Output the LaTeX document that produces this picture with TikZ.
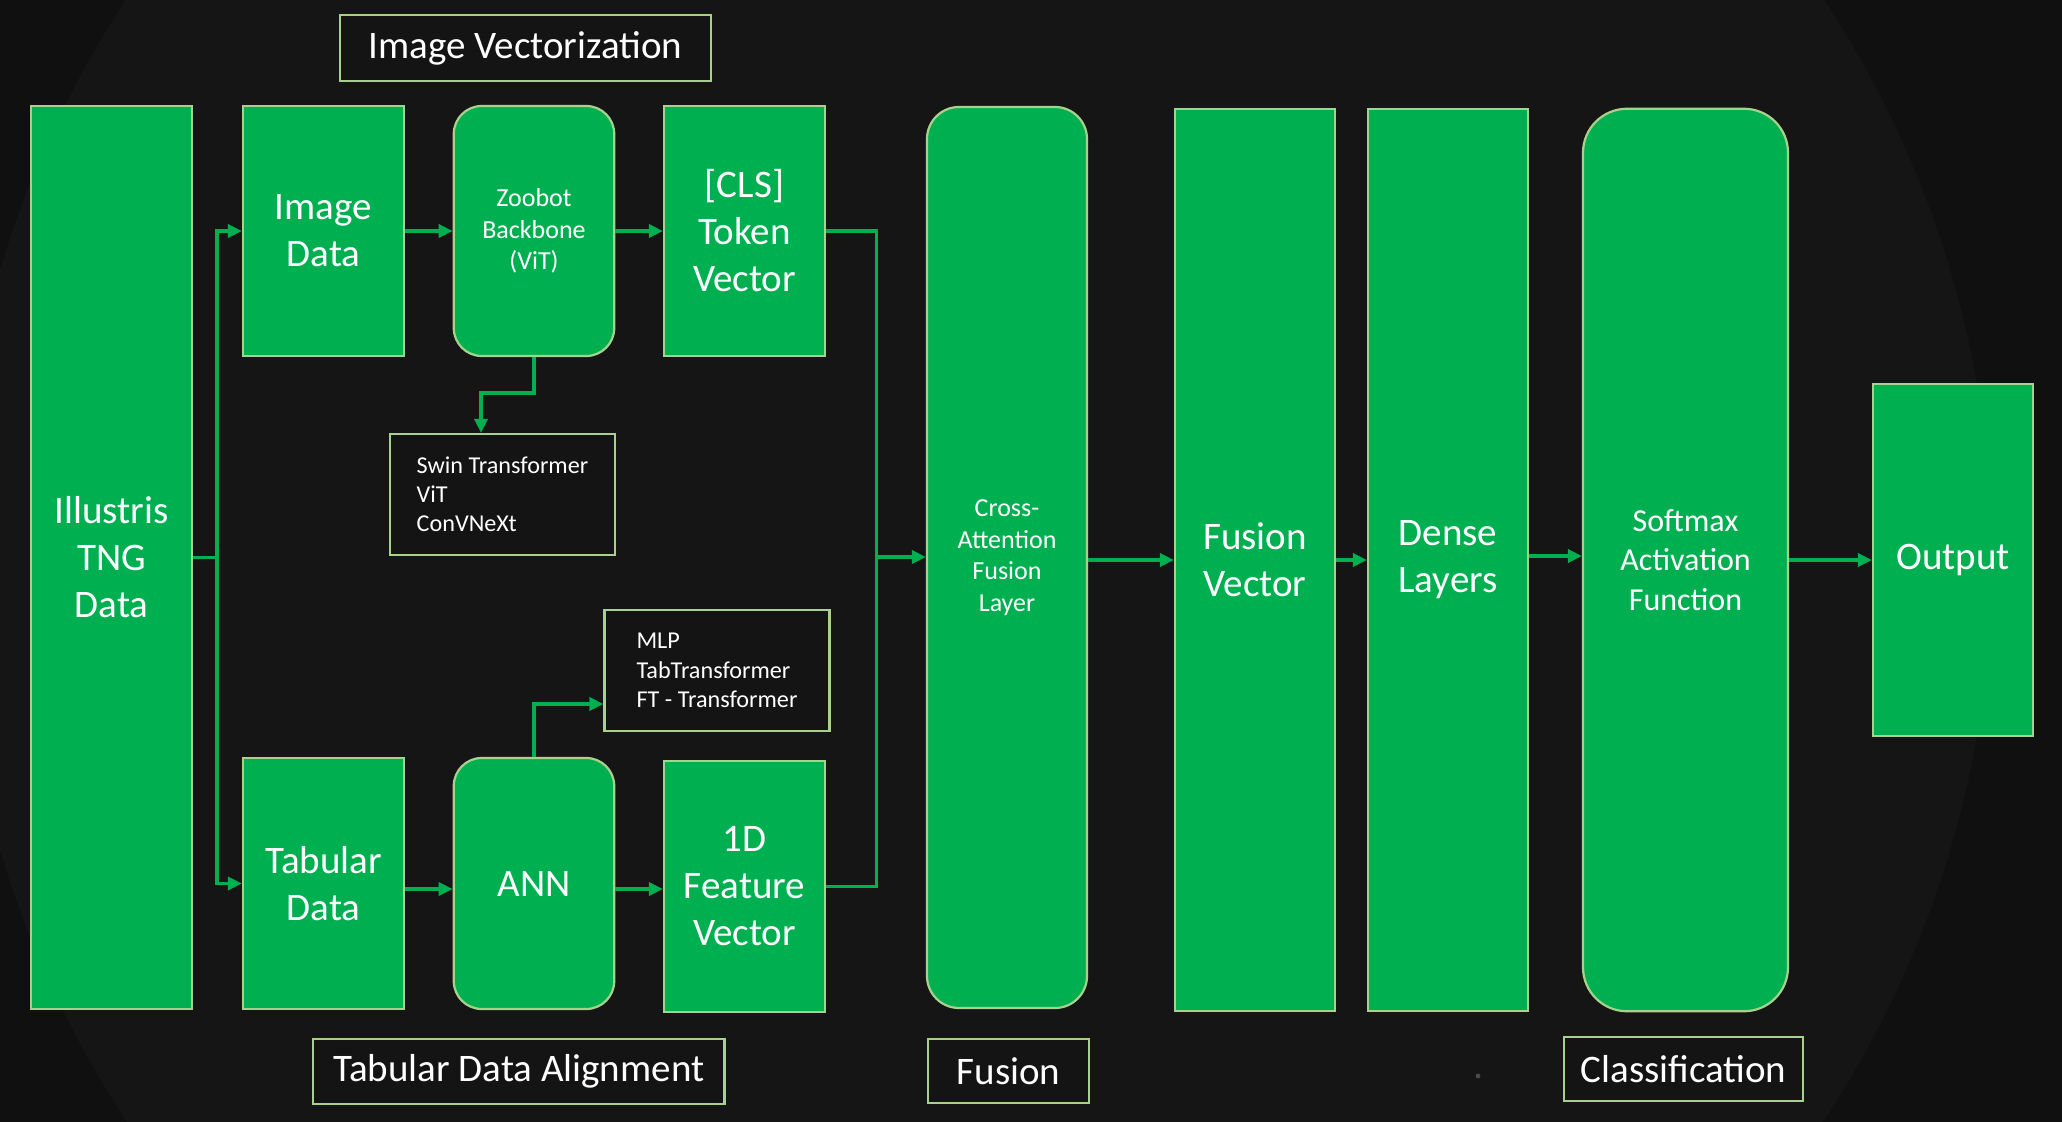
\documentclass[tikz,border=0pt]{standalone}
\usepackage{fontspec}
\setmainfont{Carlito}
\usetikzlibrary{arrows.meta}

\definecolor{bg}{HTML}{141414}
\definecolor{bgin}{HTML}{151515}
\definecolor{bgout}{HTML}{101010}
\definecolor{speck}{HTML}{4A4A4A}
\definecolor{boxgreen}{HTML}{00B050}
\definecolor{edgegreen}{HTML}{A9D18E}
\definecolor{linkgreen}{HTML}{00B050}

\tikzset{
  block/.style={draw=edgegreen, line width=1.1pt, fill=boxgreen, text=white,
                align=center, inner sep=0pt, font=\fontsize{19.5}{23.5}\selectfont},
  smalltext/.style={font=\fontsize{13}{15.8}\selectfont},
  midtext/.style={font=\fontsize{16}{19.8}\selectfont},
  tag/.style={draw=edgegreen, line width=1.1pt, fill=bg, text=white,
              inner sep=0pt, font=\fontsize{19.5}{23.5}\selectfont},
  listbox/.style={draw=edgegreen, line width=1.1pt, fill=bg, text=white,
                  inner sep=0pt, align=left, font=\fontsize{12.1}{14.6}\selectfont},
  wire/.style={draw=linkgreen, line width=1.8pt},
  link/.style={wire, -{Triangle[length=7pt,width=6.5pt]}},
}

\begin{document}
\begin{tikzpicture}[x=0.5pt, y=-0.5pt]
  % backdrop with a soft round vignette
  \useasboundingbox (0,0) rectangle (2062,1122);
  \fill[bgout] (0,0) rectangle (2062,1122);
  \begin{scope}
    \clip (0,0) rectangle (2062,1122);
    \fill[bgin] (975,560) circle[radius=508.5pt];
  \end{scope}
  \fill[speck] (1478,1076) circle[radius=1.2pt];

  % section captions
  \node[tag, minimum width=185.5pt, minimum height=33pt] (imgvec) at (525.5,48) {Image Vectorization};
  \node[tag, minimum width=205.75pt, minimum height=32.5pt] (tabalign) at (518.75,1071.5) {Tabular Data Alignment};
  \node[tag, minimum width=80.5pt, minimum height=32pt] (fusiontag) at (1008.5,1071) {Fusion};
  \node[tag, minimum width=119.5pt, minimum height=32pt] (classtag) at (1683.5,1069) {Classification};

  % input column
  \node[block, minimum width=80.5pt, minimum height=451.5pt] (illustris) at (111.5,557.5) {Illustris\\TNG\\Data};

  % image branch
  \node[block, minimum width=80.5pt, minimum height=125pt] (imgdata) at (323.5,231) {Image\\Data};
  \node[block, smalltext, rounded corners=14pt, minimum width=80.25pt, minimum height=125pt] (zoobot) at (534,231) {Zoobot\\Backbone\\(ViT)};
  \node[block, minimum width=80.5pt, minimum height=125pt] (cls) at (744.5,231) {[CLS]\\Token\\Vector};
  \node[listbox, minimum width=112.5pt, minimum height=60.5pt] (swin) at (502.5,494.5) {Swin Transformer\\ViT\\ConVNeXt};

  % tabular branch
  \node[block, minimum width=80.5pt, minimum height=125.5pt] (tabdata) at (323.5,883.5) {Tabular\\Data};
  \node[block, rounded corners=14pt, minimum width=80.25pt, minimum height=125.5pt] (ann) at (534,883.5) {ANN};
  \node[block, minimum width=80.5pt, minimum height=125.5pt] (feat) at (744.5,886.5) {1D\\Feature\\Vector};
  \node[listbox, minimum width=112.5pt, minimum height=60.5pt] (mlp) at (717,670.5) {MLP\\TabTransformer\\FT - Transformer};

  % fusion and classification
  \node[block, smalltext, rounded corners=16pt, minimum width=80pt, minimum height=450.5pt] (crossatt) at (1007,557.5) {Cross-\\Attention\\Fusion\\Layer};
  \node[block, minimum width=80pt, minimum height=451.25pt] (fusionvec) at (1255,560) {Fusion\\Vector};
  \node[block, minimum width=80pt, minimum height=451.25pt] (dense) at (1448,560) {\raisebox{-2pt}{Dense}\\\raisebox{-2pt}{Layers}};
  \node[block, midtext, rounded corners=22pt, minimum width=102.5pt, minimum height=451.25pt] (softmax) at (1685.5,560) {\raisebox{-2.5pt}{Softmax}\\\raisebox{-2.5pt}{Activation}\\\raisebox{-2.5pt}{Function}};
  \node[block, minimum width=80pt, minimum height=176.25pt] (output) at (1953,560) {\raisebox{-2.5pt}{Output}};

  % connector helpers
  \coordinate (split) at (217,557.5);
  \coordinate (merge) at (876.5,557);
  \coordinate (swinin) at ([xshift=-10.75pt]swin.north);
  \coordinate (mlpin) at ([yshift=-16.75pt]mlp.west);

  % split of the input data
  \draw[wire] (illustris.east) -- (split);
  \draw[link] (split) |- (imgdata.west);
  \draw[link] (split) |- (tabdata.west);

  % image branch flow
  \draw[link] (imgdata.east) -- (zoobot.west);
  \draw[link] (zoobot.east) -- (cls.west);
  \draw[link] (zoobot.south) -- ++(0,36) -| (swinin);

  % tabular branch flow
  \draw[link] ([yshift=-2.75pt]tabdata.east) -- ([yshift=-2.75pt]tabdata.east -| ann.west);
  \draw[link] ([yshift=-2.75pt]ann.east) -- ([yshift=-2.75pt]ann.east -| feat.west);
  \draw[link] (ann.north) |- (mlpin);

  % merge into the fusion layer
  \draw[wire] (cls.east) -| (merge);
  \draw[wire] (feat.east) -| (merge);
  \draw[link] (merge) -- (merge -| crossatt.west);

  % head of the network
  \draw[link] (crossatt.east |- fusionvec.east) -- (fusionvec.west);
  \draw[link] (fusionvec.east) -- (dense.west);
  \draw[link] ([yshift=2pt]dense.east) -- ([yshift=2pt]softmax.west);
  \draw[link] (softmax.east) -- (output.west);
\end{tikzpicture}
\end{document}
